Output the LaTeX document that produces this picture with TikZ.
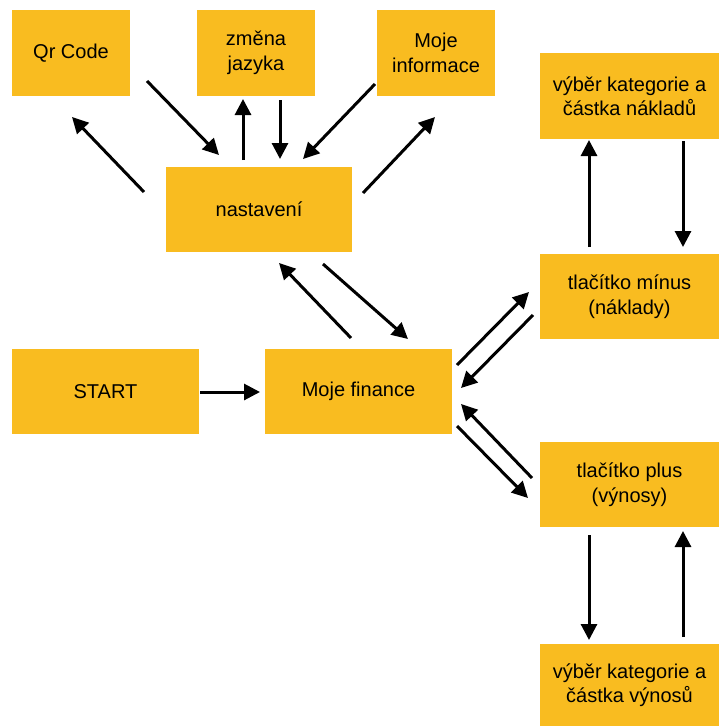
\documentclass[tikz,border=0pt]{standalone}
\usepackage{fontspec}
\setmainfont{Liberation Sans}
\usetikzlibrary{arrows.meta}
\definecolor{boxfill}{RGB}{249,188,32}
\tikzset{
  box/.style={fill=boxfill, draw=none, align=center, inner sep=0pt,
    font=\fontsize{20}{24.5}\selectfont},
  arr/.style={line width=3pt, -{Triangle[length=16pt,width=16pt]}}
}
\begin{document}
\begin{tikzpicture}[x=1pt,y=-1pt]
\useasboundingbox (0,0) rectangle (719,726);
% boxes
\node[box, minimum width=118, minimum height=86] (qr) at (71,53) {Qr Code};
\node[box, minimum width=118, minimum height=86] (zmena) at (256,53) {změna\\jazyka};
\node[box, minimum width=118, minimum height=86] (info) at (436,53) {Moje\\informace};
\node[box, minimum width=186, minimum height=85] (nast) at (259,209.5) {nastavení};
\node[box, minimum width=179, minimum height=86] (vnakl) at (629.5,96) {výběr kategorie a\\částka nákladů};
\node[box, minimum width=179, minimum height=85] (minus) at (629.5,296.5) {tlačítko mínus\\(náklady)};
\node[box, minimum width=187, minimum height=85] (start) at (105.5,391.5) {START};
\node[box, minimum width=187, minimum height=85] (fin) at (358.5,391.5) {Moje finance};
\node[box, minimum width=179, minimum height=85] (plus) at (629.5,484.5) {tlačítko plus\\(výnosy)};
\node[box, minimum width=179, minimum height=82] (vvyn) at (629.5,685) {výběr kategorie a\\částka výnosů};
% arrow end points
\coordinate (a1s) at (144,192); \coordinate (a1e) at (72,117);
\coordinate (a2s) at (147,81);  \coordinate (a2e) at (219,155);
\coordinate (a3s) at (243,160); \coordinate (a3e) at (243,99);
\coordinate (a4s) at (280,100); \coordinate (a4e) at (280,159);
\coordinate (a5s) at (375,84);  \coordinate (a5e) at (303,159);
\coordinate (a6s) at (363,193); \coordinate (a6e) at (435,117);
\coordinate (b1s) at (589,247); \coordinate (b1e) at (589,140);
\coordinate (b2s) at (683,141); \coordinate (b2e) at (683,247);
\coordinate (c1s) at (351,338); \coordinate (c1e) at (279,263);
\coordinate (c2s) at (323,264); \coordinate (c2e) at (408,339);
\coordinate (d1s) at (200,392); \coordinate (d1e) at (260,392);
\coordinate (e1s) at (457,365); \coordinate (e1e) at (529,292);
\coordinate (e2s) at (533,315); \coordinate (e2e) at (461,388);
\coordinate (e3s) at (532,478); \coordinate (e3e) at (461,404);
\coordinate (e4s) at (457,426); \coordinate (e4e) at (528,498);
\coordinate (f1s) at (589,535); \coordinate (f1e) at (589,640);
\coordinate (f2s) at (683,637); \coordinate (f2e) at (683,531);
% connectors
\draw[arr] (a1s) -- (a1e);
\draw[arr] (a2s) -- (a2e);
\draw[arr] (a3s) -- (a3e);
\draw[arr] (a4s) -- (a4e);
\draw[arr] (a5s) -- (a5e);
\draw[arr] (a6s) -- (a6e);
\draw[arr] (b1s) -- (b1e);
\draw[arr] (b2s) -- (b2e);
\draw[arr] (c1s) -- (c1e);
\draw[arr] (c2s) -- (c2e);
\draw[arr] (d1s) -- (d1e);
\draw[arr] (e1s) -- (e1e);
\draw[arr] (e2s) -- (e2e);
\draw[arr] (e3s) -- (e3e);
\draw[arr] (e4s) -- (e4e);
\draw[arr] (f1s) -- (f1e);
\draw[arr] (f2s) -- (f2e);
\end{tikzpicture}
\end{document}
